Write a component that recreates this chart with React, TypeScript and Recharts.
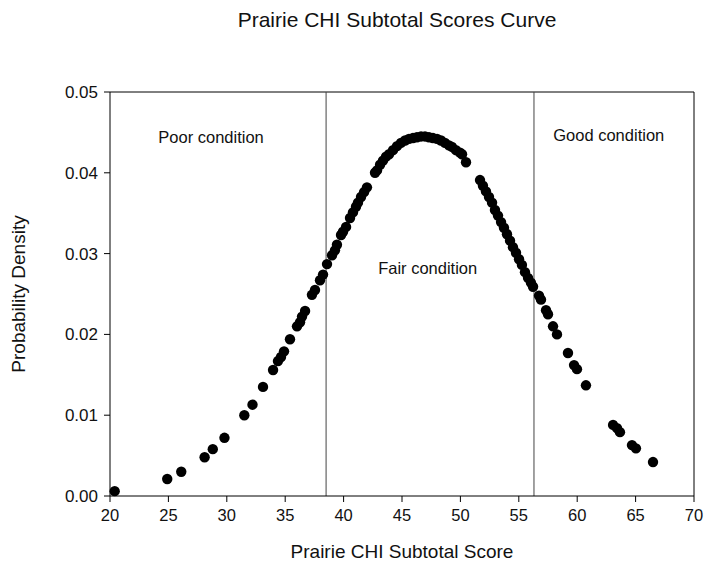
import React from 'react';
import {
  ScatterChart,
  Scatter,
  XAxis,
  YAxis,
  ReferenceLine,
  ReferenceDot,
} from 'recharts';

// scores, left to right
const scores = [
  20.4, 24.9, 26.1, 28.1, 28.8, 29.8, 31.5, 32.2, 33.1, 33.96,
  34.38, 34.64, 34.9, 35.41, 36.01, 36.27, 36.44, 36.7, 37.29, 37.55,
  37.98, 38.24, 38.58, 39.01, 39.26, 39.43, 39.78, 39.95, 40.21, 40.55,
  40.8, 41.06, 41.23, 41.49, 41.75, 42.0, 42.69, 42.86, 43.12, 43.37,
  43.63, 43.89, 44.23, 44.57, 44.91, 45.26, 45.6, 45.94, 46.28, 46.63,
  46.97, 47.31, 47.65, 48.0, 48.34, 48.68, 49.02, 49.28, 49.62, 49.97,
  50.14, 50.48, 51.68, 51.93, 52.19, 52.45, 52.71, 52.96, 53.22, 53.48,
  53.73, 53.99, 54.25, 54.5, 54.76, 55.02, 55.27, 55.53, 55.79, 56.04,
  56.22, 56.73, 56.9, 57.33, 57.5, 57.93, 58.27, 59.21, 59.73, 59.98,
  60.75, 63.07, 63.41, 63.66, 64.69, 65.03, 66.49,
];

const densities = [
  0.0006, 0.0021, 0.003, 0.0048, 0.0058, 0.0072, 0.01, 0.0113, 0.0135, 0.0156,
  0.0167, 0.0172, 0.0179, 0.0194, 0.021, 0.0215, 0.0222, 0.0229, 0.0249, 0.0255,
  0.0267, 0.0274, 0.0287, 0.0298, 0.0304, 0.0311, 0.0323, 0.0327, 0.0333, 0.0344,
  0.0351, 0.0358, 0.0363, 0.037, 0.0376, 0.0382, 0.04, 0.0403, 0.041, 0.0415,
  0.042, 0.0423, 0.0428, 0.0433, 0.0437, 0.044, 0.0442, 0.0443, 0.0444, 0.0445,
  0.0445, 0.0444, 0.0443, 0.0442, 0.044, 0.0437, 0.0434, 0.0432, 0.0428, 0.0425,
  0.0423, 0.0413, 0.0391, 0.0384, 0.0377, 0.037, 0.0363, 0.0354, 0.0347, 0.0339,
  0.0332, 0.0324, 0.0316, 0.0308, 0.0301, 0.0293, 0.0286, 0.0277, 0.027, 0.0264,
  0.0259, 0.0248, 0.0243, 0.023, 0.0225, 0.021, 0.02, 0.0177, 0.0162, 0.0157,
  0.0137, 0.0088, 0.0084, 0.0079, 0.0063, 0.0059, 0.0042,
];

const xTicks = [20, 25, 30, 35, 40, 45, 50, 55, 60, 65, 70];
const yTicks = [0, 0.01, 0.02, 0.03, 0.04, 0.05];

// condition cut-offs (vertical lines)
const cutoffs = [38.5, 56.3];

const zoneLabels = ['Poor condition', 'Fair condition', 'Good condition'];
const zoneX = [28.65, 47.2, 62.7];
const zoneY = [0.0444, 0.0282, 0.0447];

const points = scores.map((x, i) => ({ x, y: densities[i] }));

const FONT = '"Liberation Sans", Arial, sans-serif';
const INK = '#111';

const Dot = (props: any) => <circle cx={props.cx} cy={props.cy} r={5.2} fill="#000" />;

export default function App() {
  return (
    <div style={{ position: 'absolute', left: 0, top: 0, width: 704, height: 567, background: '#fff', fontFamily: FONT }}>
      <div
        style={{
          position: 'absolute',
          left: 97,
          top: 8,
          width: 600,
          textAlign: 'center',
          fontSize: 21,
          color: INK,
        }}
      >
        Prairie CHI Subtotal Scores Curve
      </div>
      <ScatterChart width={704} height={567} margin={{ top: 92, right: 10, bottom: 0, left: 0 }}>
        <XAxis
          type="number"
          dataKey="x"
          domain={[20, 70]}
          ticks={xTicks}
          height={71}
          tickSize={6}
          tickMargin={7}
          stroke="#000"
          tick={{ fill: INK, fontSize: 16.5 }}
          label={{ value: 'Prairie CHI Subtotal Score', position: 'insideBottom', offset: 9, fill: INK, fontSize: 19 }}
        />
        <YAxis
          type="number"
          dataKey="y"
          domain={[0, 0.05]}
          ticks={yTicks}
          width={110}
          tickSize={6}
          tickMargin={6}
          stroke="#000"
          tickFormatter={(v: number) => v.toFixed(2)}
          tick={{ fill: INK, fontSize: 17 }}
          label={{
            value: 'Probability Density',
            angle: -90,
            position: 'insideLeft',
            offset: 18,
            fill: INK,
            fontSize: 19,
            style: { textAnchor: 'middle' },
          }}
        />
        <ReferenceLine y={0.05} stroke="#000" />
        <ReferenceLine x={70} stroke="#000" />
        {cutoffs.map((c) => (
          <ReferenceLine key={c} x={c} stroke="#444" strokeWidth={1} />
        ))}
        {zoneLabels.map((t, i) => (
          <ReferenceDot
            key={t}
            x={zoneX[i]}
            y={zoneY[i]}
            r={0}
            fill="none"
            stroke="none"
            label={{ value: t, position: 'center', fill: INK, fontSize: 16.5 }}
          />
        ))}
        <Scatter data={points} shape={Dot} isAnimationActive={false} />
      </ScatterChart>
    </div>
  );
}
